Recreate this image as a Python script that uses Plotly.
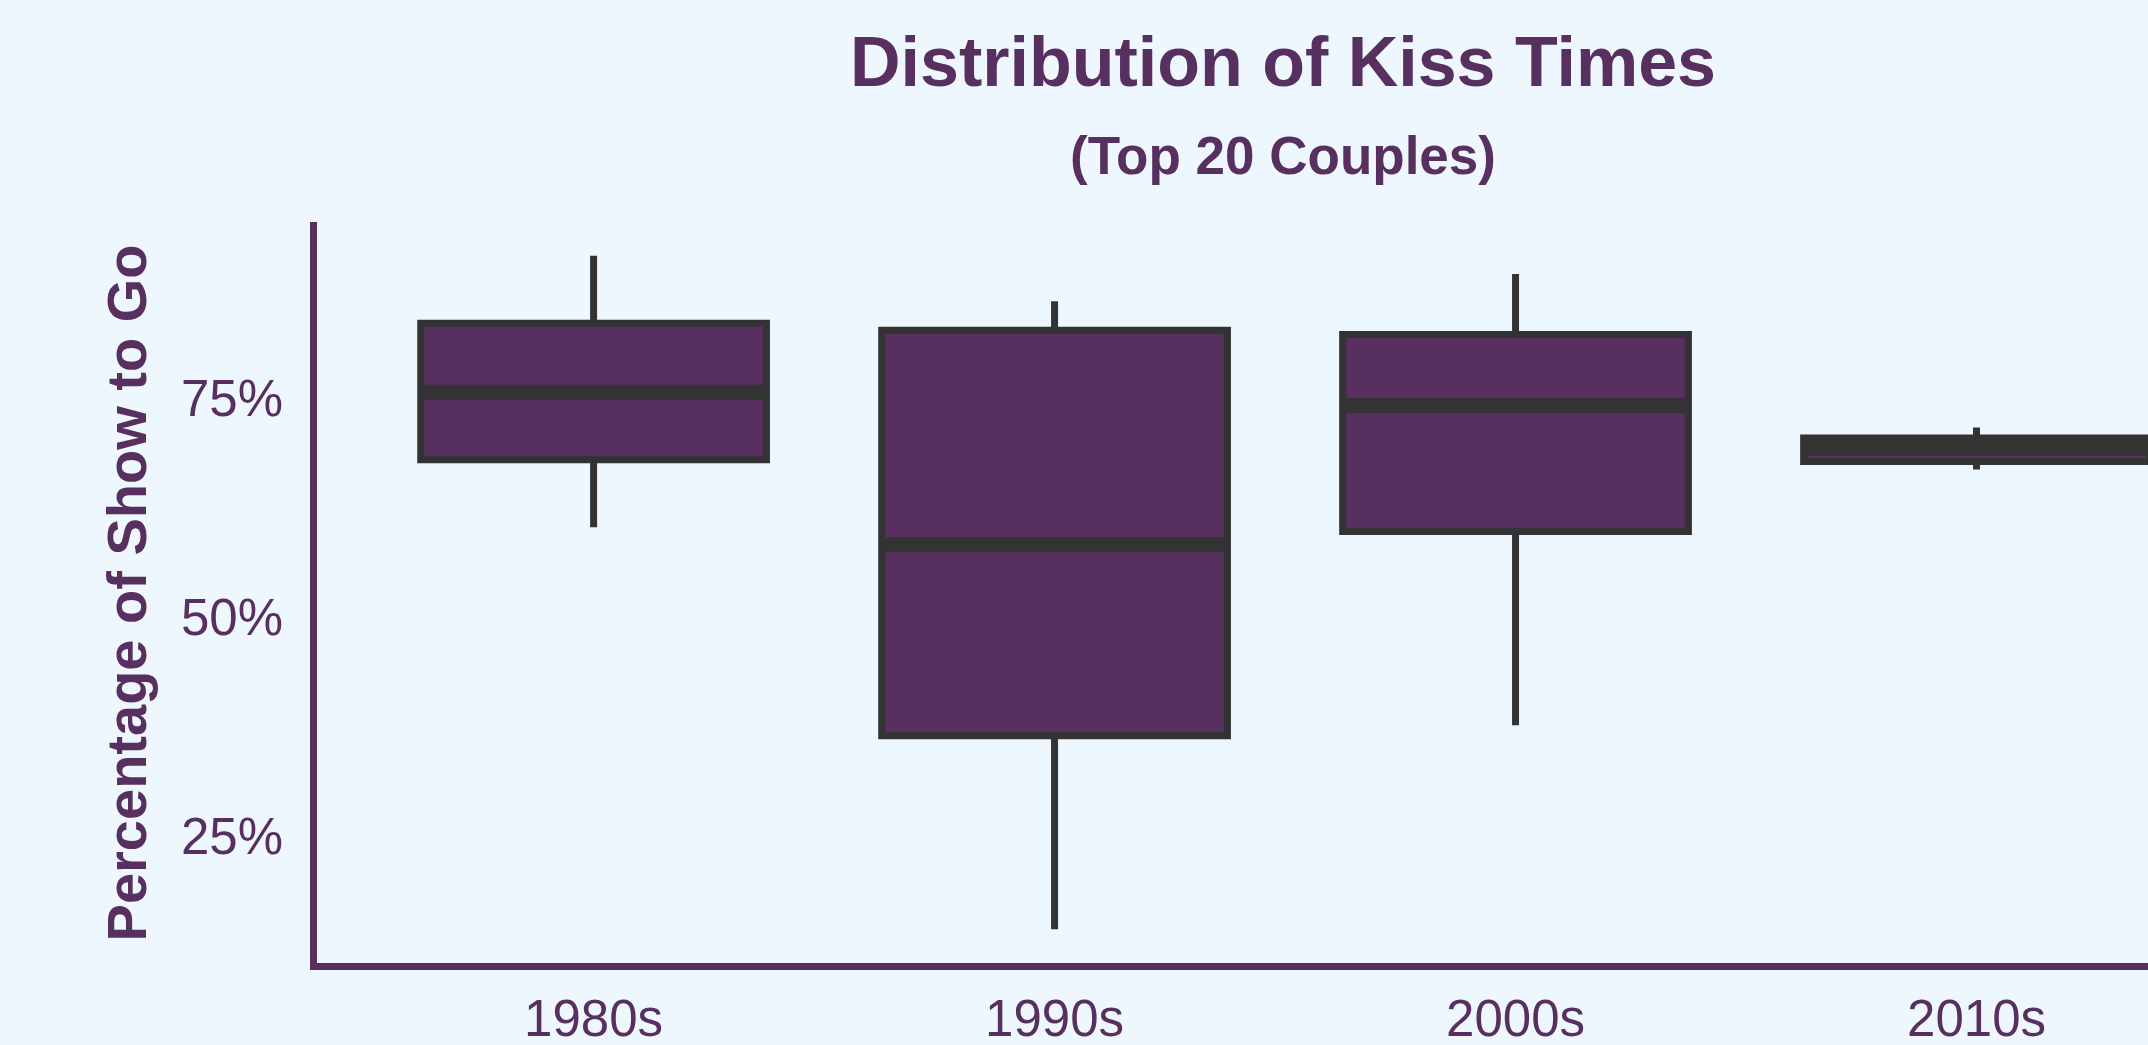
import plotly.graph_objects as go

# ---- data ----
decades = ["1980s", "1990s", "2000s", "2010s"]
lower_whisker = [0.603, 0.144, 0.377, 0.669]
q1_vals = [0.680, 0.365, 0.598, 0.678]
median_vals = [0.757, 0.583, 0.742, 0.693]
q3_vals = [0.836, 0.828, 0.823, 0.705]
upper_whisker = [0.913, 0.861, 0.892, 0.717]
y_tick_vals = [0.25, 0.50, 0.75]

# ---- styling ----
BG = "#EEF7FE"
PURPLE = "#57305F"
DARK = "#333333"
FONT = "Liberation Sans"
BOX_WIDTH = 0.75

positions = list(range(len(decades)))

fig = go.Figure()
fig.add_trace(go.Box(
    x=positions,
    q1=q1_vals,
    median=median_vals,
    q3=q3_vals,
    lowerfence=lower_whisker,
    upperfence=upper_whisker,
    width=BOX_WIDTH,
    fillcolor=PURPLE,
    line=dict(color=DARK, width=7),
    whiskerwidth=0,
    boxpoints=False,
    showlegend=False,
    hoverinfo="skip",
))

# thick median bars (ggplot style)
mx, my = [], []
for p, m in zip(positions, median_vals):
    mx += [p - BOX_WIDTH / 2, p + BOX_WIDTH / 2, None]
    my += [m, m, None]
fig.add_trace(go.Scatter(
    x=mx, y=my, mode="lines",
    line=dict(color=DARK, width=15),
    showlegend=False, hoverinfo="skip",
))

ymin, ymax = min(lower_whisker), max(upper_whisker)
span = ymax - ymin
yrange = [ymin - 0.05 * span, ymax + 0.05 * span]

fig.update_layout(
    width=2148, height=1045, autosize=False,
    paper_bgcolor=BG, plot_bgcolor=BG,
    margin=dict(l=317, r=0, t=222, b=82, autoexpand=False),
    font=dict(family=FONT, color=PURPLE),
    xaxis=dict(
        range=[-0.6, 3.372],
        tickvals=positions, ticktext=decades,
        showgrid=False, zeroline=False, automargin=False,
        showline=True, linecolor=PURPLE, linewidth=6.5,
        ticks="", tickfont=dict(size=51, color=PURPLE, family=FONT),
        ticklabelstandoff=5,
    ),
    yaxis=dict(
        range=yrange,
        tickvals=y_tick_vals, tickformat=".0%",
        showgrid=False, zeroline=False, automargin=False,
        showline=True, linecolor=PURPLE, linewidth=6.5,
        ticks="", tickfont=dict(size=51, color=PURPLE, family=FONT),
        ticklabelstandoff=17,
    ),
    annotations=[
        dict(text="<b>Distribution of Kiss Times</b>", xref="paper", yref="paper",
             x=0.5276, y=1.2159, xanchor="center", yanchor="middle", showarrow=False,
             font=dict(size=70, color=PURPLE, family=FONT)),
        dict(text="<b>(Top 20 Couples)</b>", xref="paper", yref="paper",
             x=0.5276, y=1.0891, xanchor="center", yanchor="middle", showarrow=False,
             font=dict(size=53, color=PURPLE, family=FONT)),
        dict(text="<b>Percentage of Show to Go</b>", xref="paper", yref="paper",
             x=-0.1038, y=0.5, xanchor="center", yanchor="middle", showarrow=False,
             textangle=-90,
             font=dict(size=56, color=PURPLE, family=FONT)),
    ],
)

fig.write_html(
    "out.html",
    config={"displayModeBar": False},
    post_script=(
        "document.documentElement.style.margin='0';"
        "document.body.style.margin='0';"
        "document.body.style.overflow='hidden';"
        "document.body.style.background='" + BG + "';"
    ),
)
